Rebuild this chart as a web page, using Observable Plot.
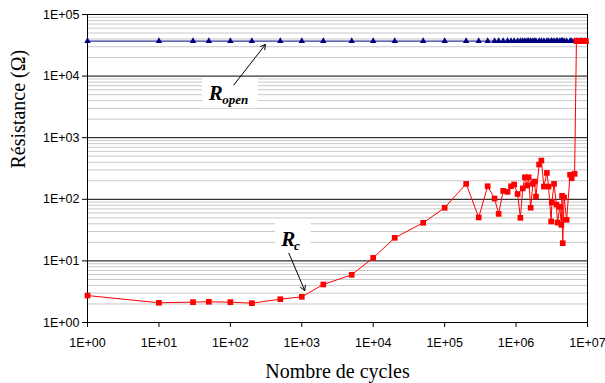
<!DOCTYPE html>
<html><head><meta charset="utf-8">
<script src="https://cdn.jsdelivr.net/npm/d3@7"></script>
<script src="https://cdn.jsdelivr.net/npm/@observablehq/plot@0.6"></script>
<style>body{margin:0;background:#fff} svg{overflow:visible}</style>
</head><body><div id="chart"></div>
<script>
// Number of cycles (x)
const cycles = [1, 10, 30, 50, 100, 200, 500, 1000, 2000, 5000,
  1e4, 2e4, 5e4, 1e5, 2e5, 3e5, 4e5, 5e5,
  5.7e5, 6.6e5, 7.6e5, 8.5e5, 9.4e5,
  1.05e6, 1.15e6, 1.24e6, 1.33e6, 1.43e6, 1.5e6, 1.6e6, 1.72e6, 1.8e6, 1.9e6,
  2.1e6, 2.26e6, 2.45e6, 2.7e6, 2.85e6,
  3.1e6, 3.17e6, 3.4e6, 3.67e6, 3.8e6,
  4.1e6, 4.3e6, 4.4e6, 4.5e6, 4.7e6,
  5.1e6, 5.7e6, 6.0e6, 6.6e6,
  7.0e6, 7.3e6, 7.7e6, 8.1e6, 8.5e6, 9.0e6, 9.5e6];
// Contact resistance Rc (ohm)
const rc = [2.74, 2.09, 2.14, 2.17, 2.14, 2.06, 2.39, 2.61, 4.14, 5.95,
  11.2, 23.7, 41.5, 72.8, 178, 50.7, 163, 103,
  58, 137, 132, 163, 174,
  122, 50, 150, 228, 167, 228, 73, 178, 194, 111,
  367, 425, 161, 268, 161,
  43.6, 89.6, 178, 82, 41.9,
  75.4, 38.5, 114, 19.4, 107,
  46.5, 250, 220, 259,
  37000, 37000, 37000, 37000, 37000, 37000, 37000];
// Open resistance Ropen (ohm)
const ropen = [37000, 37000, 37000, 37000, 37000, 37000, 37000, 37000, 37000, 37000,
  37000, 37000, 37000, 37000, 37000, 37000, 37000, 37000,
  37000, 37000, 37000, 37000, 37000,
  37000, 37000, 37000, 37000, 37000, 37000, 37000, 37000, 37000, 37000,
  37000, 37000, 37000, 37000, 37000,
  37000, 37000, 37000, 37000, 37000,
  37000, 37000, 37000, 37000, 37000,
  37000, 37000, 37000, 37000,
  37000, 37000, 37000, 37000, 37000, 37000, 37000];

// Axis ticks
const xTicks = [1, 10, 100, 1e3, 1e4, 1e5, 1e6, 1e7];
const yTicks = [1, 10, 100, 1e3, 1e4, 1e5];
const xTitle = "Nombre de cycles";
const yTitle = "Résistance (Ω)";

// Annotations (data coordinates)
const annoMain = ["R", "R"];
const annoSub = ["open", "c"];
const annoMainX = [50, 516], annoMainY = [4120, 17.3];
const annoSubX = [77, 775], annoSubY = [3460, 14.8];
const arrowX1 = [112, 660], arrowY1 = [7200, 13.3];
const arrowX2 = [310, 1100], arrowY2 = [32600, 3.3];
const boxX1 = [41, 430], boxX2 = [247, 1358];
const boxY1 = [2980, 13.8], boxY2 = [9140, 42.5];

const table = cycles.map((c, i) => ({c, rc: rc[i], ropen: ropen[i]}));
const minorY = yTicks.slice(0, -1).flatMap(d => [2,3,4,5,6,7,8,9].map(k => d * k));
const anno = annoMain.map((t, i) => ({
  t, s: annoSub[i], mx: annoMainX[i], my: annoMainY[i], sx: annoSubX[i], sy: annoSubY[i],
  ax1: arrowX1[i], ay1: arrowY1[i], ax2: arrowX2[i], ay2: arrowY2[i],
  bx1: boxX1[i], bx2: boxX2[i], by1: boxY1[i], by2: boxY2[i]
}));
const fmt = d => "1E+" + String(Math.round(Math.log10(d))).padStart(2, "0");
const serif = "'Liberation Serif', 'Times New Roman', serif";

const chart = Plot.plot({
  width: 605, height: 383,
  marginLeft: 87, marginRight: 18, marginTop: 14, marginBottom: 61,
  x: {type: "log", domain: [1, 1e7]},
  y: {type: "log", domain: [1, 1e5]},
  style: {fontFamily: "'Liberation Sans', Arial, sans-serif", fontSize: "12.5px", background: "white", color: "black", overflow: "visible"},
  marks: [
    Plot.ruleY(minorY, {stroke: "#c8c8c8", strokeWidth: 1}),
    Plot.ruleY(yTicks.slice(1, -1), {stroke: "#000", strokeWidth: 1}),
    Plot.rect(anno, {x1: "bx1", x2: "bx2", y1: "by1", y2: "by2", fill: "white"}),
    Plot.frame({stroke: "#000"}),
    Plot.axisX(xTicks, {tickFormat: fmt, tickSize: 5, tickPadding: 11, label: null, fontSize: 12.5}),
    Plot.axisY(yTicks, {tickFormat: fmt, tickSize: 5, tickPadding: 3, label: null, fontSize: 12.5}),
    Plot.line(table, {x: "c", y: "ropen", stroke: "#000080", strokeWidth: 1}),
    Plot.dot(table, {x: "c", y: "ropen", symbol: "triangle", r: 2.4, fill: "#000080", stroke: "none"}),
    Plot.line(table, {x: "c", y: "rc", stroke: "#ff0000", strokeWidth: 1}),
    Plot.dot(table, {x: "c", y: "rc", symbol: "square", r: 3.2, fill: "#ff0000", stroke: "none"}),
    Plot.arrow(anno, {x1: "ax1", y1: "ay1", x2: "ax2", y2: "ay2", stroke: "black", strokeWidth: 1, headLength: 8}),
    Plot.text(anno, {x: "mx", y: "my", text: "t", textAnchor: "start", lineAnchor: "bottom",
      fontFamily: serif, fontStyle: "italic", fontWeight: "bold", fontSize: 21}),
    Plot.text(anno, {x: "sx", y: "sy", text: "s", textAnchor: "start", lineAnchor: "bottom",
      fontFamily: serif, fontStyle: "italic", fontWeight: "bold", fontSize: 13}),
    Plot.text([xTitle], {frameAnchor: "bottom", dy: 55, lineAnchor: "bottom", fontFamily: serif, fontSize: 20}),
    Plot.text([yTitle], {frameAnchor: "left", dx: -69, rotate: -90, fontFamily: serif, fontSize: 20})
  ]
});
document.getElementById("chart").append(chart);
</script>
</body></html>
